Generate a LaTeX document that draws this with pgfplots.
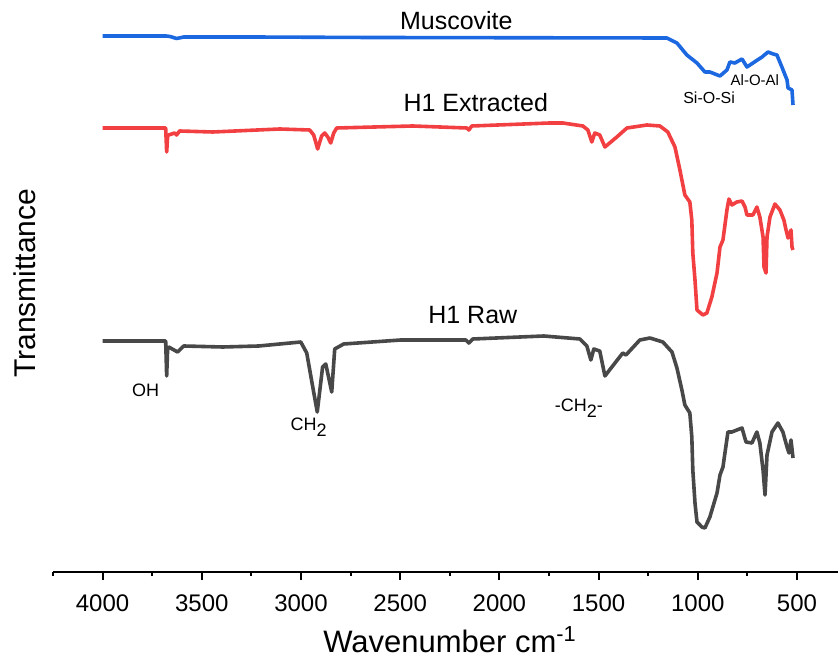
\documentclass[border=0pt]{standalone}
\usepackage{pgfplots}
\pgfplotsset{compat=1.18}
\usepackage{fontspec}
\setmainfont{Liberation Sans}
\definecolor{cblue}{RGB}{28,104,224}
\definecolor{cred}{RGB}{242,64,66}
\definecolor{cgray}{RGB}{72,72,72}
\newcommand{\fs}[1]{\fontsize{#1}{1.2\dimexpr#1\relax}\selectfont}
\begin{document}
\begin{tikzpicture}
\begin{axis}[
  scale only axis,
  width=392.5bp, height=286bp,
  x dir=reverse,
  xmin=293.2, xmax=4250,
  ymin=88, ymax=660,
  axis x line=bottom, axis y line=none,
  x axis line style={-, line width=1bp, black},
  xtick={500,1000,...,4000},
  minor xtick={750,1250,...,4250},
  tick align=outside,
  major tick length=4bp, minor tick length=2bp,
  every tick/.style={black, line width=1bp},
  /pgf/number format/1000 sep={},
  /pgf/number format/assume math mode=true,
  xticklabel style={font=\fs{12bp}, anchor=north, inner sep=0pt, yshift=-7bp},
  xlabel={Wavenumber cm\textsuperscript{-1}},
  every axis x label/.style={at={(axis description cs:0.5057,-0.1399)}, anchor=base, inner sep=0pt, font=\fs{15.5bp}},
  clip=false,
]
% Muscovite
\addplot[cblue, line width=1.8bp, line join=round] coordinates {
(4000,624) (3680,624) (3660,623.5) (3627,621.5) (3590,623) (3250,623) (2650,622.5) (1156,622)
(1105,617) (1055,605) (1004,597) (964,588) (939,588) (888,584) (853,590) (838,598) (813,597)
(777,601) (752,593) (722,597) (676,603) (646,608) (620,606) (601,605) (576,593) (550,580)
(545,572) (535,571) (525,570) (520,555)
};
% H1 Extracted
\addplot[cred, line width=1.8bp, line join=round] coordinates {
(4000,532) (3682,532) (3677,508) (3672,524) (3667,525) (3637,527) (3627,525) (3612,529)
(3445,528) (3107,531) (2956,530) (2936,525) (2916,511) (2896,524) (2880,527) (2865,523)
(2850,517) (2835,527) (2820,532) (2437,534) (2164,532) (2154,530) (2139,534) (1746,537)
(1680,537) (1579,534) (1554,530) (1534,518) (1519,527) (1494,525) (1468,513) (1408,523)
(1357,532) (1256,535) (1191,534) (1151,528) (1115,513) (1090,490) (1065,465) (1040,458)
(1030,440) (1025,407) (1014,380) (1004,350) (974,345) (954,347) (929,363) (903,387)
(888,413) (873,420) (853,450) (843,461) (828,455) (803,458) (777,459) (762,453) (752,445)
(722,445) (702,453) (687,443) (671,423) (666,393) (656,387) (651,423) (636,443) (611,456)
(586,450) (566,440) (555,430) (545,422) (530,430) (525,413) (520,410)
};
% H1 Raw
\addplot[cgray, line width=1.8bp, line join=round] coordinates {
(4000,319) (3682,319) (3677,284) (3672,312) (3667,313) (3622,308) (3591,314) (3395,313)
(3213,314) (3001,318) (2971,307) (2946,279) (2918,248) (2891,293) (2875,296) (2845,268)
(2830,311) (2785,316) (2497,320) (2169,320) (2154,317) (2134,321) (1776,324) (1594,321)
(1559,314) (1539,300) (1524,311) (1494,309) (1468,284) (1433,293) (1378,307) (1362,305)
(1292,320) (1241,322) (1176,318) (1130,308) (1105,292) (1080,270) (1065,255) (1040,247)
(1030,223) (1025,190) (1014,157) (1004,138) (979,133) (964,132) (939,143) (903,167)
(888,185) (873,193) (848,228) (828,228) (803,230) (777,232) (757,218) (727,217) (702,228)
(687,217) (671,190) (661,165) (651,205) (626,228) (596,237) (571,228) (550,213) (540,207)
(530,220) (520,202)
};
% labels
\node[rotate=90, anchor=base, inner sep=0pt, font=\fs{15bp}] at (axis description cs:-0.0229,0.505) {Transmittance};
\node[anchor=base, inner sep=0pt, font=\fs{12.5bp}] at (axis cs:2217,630) {Muscovite};
\node[anchor=base, inner sep=0pt, font=\fs{12.5bp}] at (axis cs:2119,548) {H1 Extracted};
\node[anchor=base, inner sep=0pt, font=\fs{12.5bp}] at (axis cs:2134,336) {H1 Raw};
\node[anchor=base, inner sep=0pt, font=\fs{8bp}] at (axis cs:943,556) {Si-O-Si};
\node[anchor=base, inner sep=0pt, font=\fs{7.5bp}] at (axis cs:712,574) {Al-O-Al};
\node[anchor=base, inner sep=0pt, font=\fs{9bp}] at (axis cs:3783,263) {OH};
\node[anchor=base, inner sep=0pt, font=\fs{9bp}] at (axis cs:2961,229) {CH\raisebox{-0.55ex}{2}};
\node[anchor=base, inner sep=0pt, font=\fs{9bp}] at (axis cs:1599,248) {-CH\raisebox{-0.55ex}{2}-};
\end{axis}
\pgfresetboundingbox
\path[use as bounding box] (-26.5bp,-44bp) rectangle (392.5bp,286bp);
\end{tikzpicture}
\end{document}
